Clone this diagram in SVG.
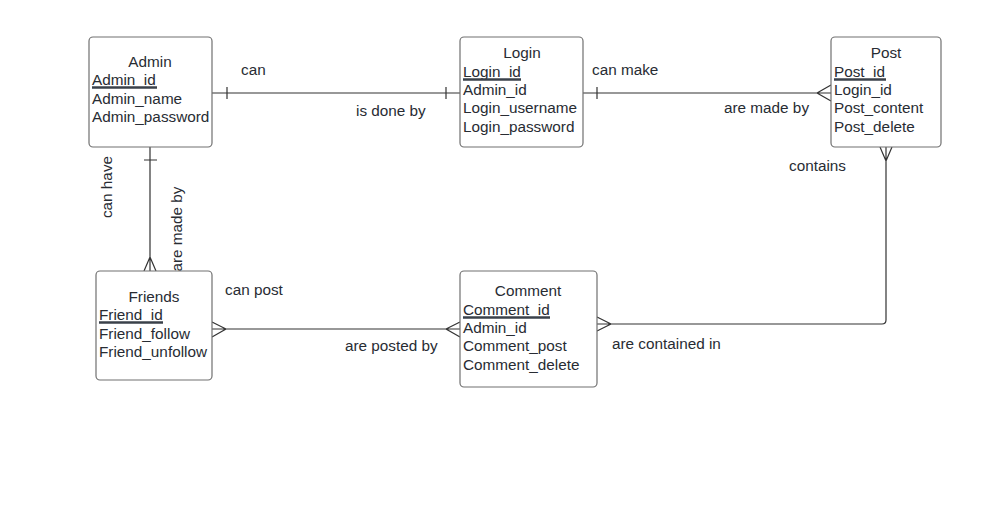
<svg xmlns="http://www.w3.org/2000/svg" width="998" height="510" viewBox="0 0 998 510">
<style>
.box{fill:#fff;stroke:#707070;stroke-width:1.2}
text{font-family:"Liberation Sans",Arial,sans-serif;font-size:15.3px;fill:#282c33}
.t{text-anchor:middle}
.ul{stroke:#3a414a;stroke-width:2.5}
.c{fill:none;stroke:#333;stroke-width:1.2}
</style>
<rect width="998" height="510" fill="#fff"/>
<g id="connectors">
  <path class="c" d="M212 93H460M227 87V99M446 87V99"/>
  <path class="c" d="M583 93H831M597 87V99M831 85L817 93L831 101"/>
  <path class="c" d="M150 147V271M144 160H157M144 271L150 257L156 271"/>
  <path class="c" d="M212 329H460M212 322L226 329L212 337M460 322L446 329L460 337"/>
  <path class="c" d="M597 324H882Q886 324 886 320V147M597 317L611 324L597 331M880 147L886 161L892 147"/>
  <text x="241" y="75">can</text>
  <text x="356" y="116">is done by</text>
  <text x="592" y="75">can make</text>
  <text x="724" y="113">are made by</text>
  <text x="789" y="171">contains</text>
  <text class="t" transform="translate(112 187) rotate(-90)">can have</text>
  <text class="t" transform="translate(182 229) rotate(-90)">are made by</text>
  <text x="225" y="295">can post</text>
  <text x="345" y="351">are posted by</text>
  <text x="612" y="349">are contained in</text>
</g>
<g id="admin">
  <rect class="box" x="89" y="37" width="123" height="110" rx="4"/>
  <text class="t" x="150" y="67">Admin</text>
  <text x="92" y="85">Admin_id</text>
  <line class="ul" x1="92" y1="87.5" x2="157" y2="87.5"/>
  <text x="92" y="104">Admin_name</text>
  <text x="92" y="122">Admin_password</text>
</g>
<g id="login">
  <rect class="box" x="460" y="37" width="123" height="110" rx="4"/>
  <text class="t" x="522" y="58">Login</text>
  <text x="463" y="77">Login_id</text>
  <line class="ul" x1="463" y1="79.5" x2="521" y2="79.5"/>
  <text x="463" y="95">Admin_id</text>
  <text x="463" y="113">Login_username</text>
  <text x="463" y="132">Login_password</text>
</g>
<g id="post">
  <rect class="box" x="831" y="37" width="110" height="110" rx="4"/>
  <text class="t" x="886" y="58">Post</text>
  <text x="834" y="77">Post_id</text>
  <line class="ul" x1="834" y1="79.5" x2="886" y2="79.5"/>
  <text x="834" y="95">Login_id</text>
  <text x="834" y="113">Post_content</text>
  <text x="834" y="132">Post_delete</text>
</g>
<g id="friends">
  <rect class="box" x="96" y="271" width="116" height="109" rx="4"/>
  <text class="t" x="154" y="302">Friends</text>
  <text x="99" y="320">Friend_id</text>
  <line class="ul" x1="99" y1="322.5" x2="163" y2="322.5"/>
  <text x="99" y="339">Friend_follow</text>
  <text x="99" y="357">Friend_unfollow</text>
</g>
<g id="comment">
  <rect class="box" x="460" y="271" width="137" height="116" rx="4"/>
  <text class="t" x="528" y="296">Comment</text>
  <text x="463" y="315">Comment_id</text>
  <line class="ul" x1="463" y1="317.5" x2="550" y2="317.5"/>
  <text x="463" y="333">Admin_id</text>
  <text x="463" y="351">Comment_post</text>
  <text x="463" y="370">Comment_delete</text>
</g>
</svg>
